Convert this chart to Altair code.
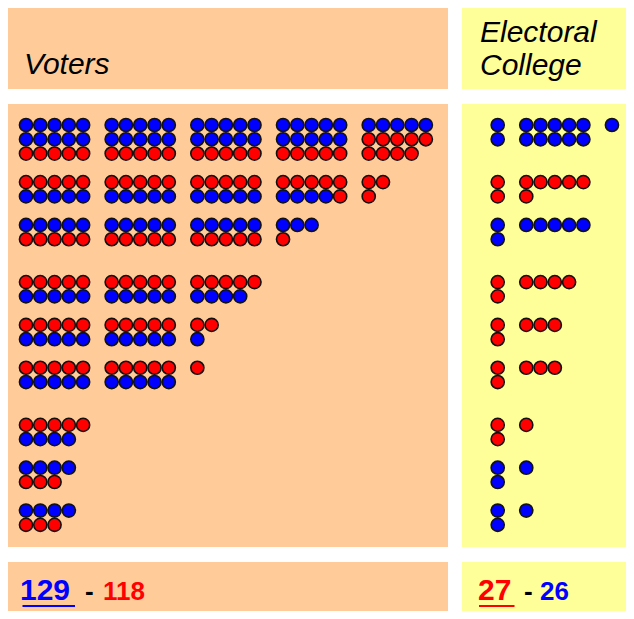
import altair as alt
import pandas as pd

BLUE = "#0000FF"
RED = "#FF0000"
ORANGE = "#FFCC99"
YELLOW = "#FFFF99"
FONT = "Liberation Sans"

# ---- data -------------------------------------------------------------
# Voters per state: blocks of dots, rows of a block separated by "/"
# B = blue voter, R = red voter
voter_blocks = [
    ["BBBBB/BBBBB/RRRRR"] * 4 + ["BBBBB/RRRRR/RRRR"],
    ["RRRRR/BBBBB"] * 3 + ["RRRRR/BBBBR", "RR/R"],
    ["BBBBB/RRRRR"] * 3 + ["BBB/R"],
    ["RRRRR/BBBBB"] * 2 + ["RRRRR/BBBB"],
    ["RRRRR/BBBBB"] * 2 + ["RR/B"],
    ["RRRRR/BBBBB"] * 2 + ["R"],
    ["RRRRR/BBBB"],
    ["BBBB/RRR"],
    ["BBBB/RRR"],
]
# Electoral college per state: winner, number of representative electors
ev_winner = ["B", "R", "B", "R", "R", "R", "R", "B", "B"]
ev_reps = [11, 6, 5, 4, 3, 3, 1, 1, 1]
ev_senators = [2, 2, 2, 2, 2, 2, 2, 2, 2]
group_sizes = [3, 3, 3]

voters_total = [129, 118]     # blue, red
ev_total = [27, 26]           # red, blue

# ---- layout helpers ----------------------------------------------------
STEP = 14.28
BLOCK_COLS = 5
BLOCK_GAP = 6

# starting row of each state
state_start = []
r = 0
idx = 0
for g in group_sizes:
    for _ in range(g):
        state_start.append(r)
        n_rows = max(max(len(b.split("/")) for b in voter_blocks[idx]), 2)
        r += n_rows + 1
        idx += 1
    r += 1

vrows = []
for s, blocks in enumerate(voter_blocks):
    for b, block in enumerate(blocks):
        for ri, line in enumerate(block.split("/")):
            for ci, ch in enumerate(line):
                vrows.append({"col": b * BLOCK_GAP + ci,
                              "row": state_start[s] + ri,
                              "party": ch})
df_v = pd.DataFrame(vrows)

erows = []
for s in range(len(ev_winner)):
    for k in range(ev_senators[s]):
        erows.append({"col": 0, "row": state_start[s] + k, "party": ev_winner[s]})
    for k in range(ev_reps[s]):
        blk, within = divmod(k, 2 * BLOCK_COLS)
        erows.append({"col": 2 + blk * BLOCK_GAP + within % BLOCK_COLS,
                      "row": state_start[s] + within // BLOCK_COLS,
                      "party": ev_winner[s]})
df_e = pd.DataFrame(erows)

color = alt.Color("party:N", scale=alt.Scale(domain=["B", "R"], range=[BLUE, RED]),
                  legend=None)

W_L, W_R = 440, 164
H_TOP, H_MAIN, H_BOT = 81, 443, 49


def dom(offset_px, size_px):
    a = -offset_px / STEP
    return [a, a + size_px / STEP]


def dots(df, width, x_off):
    return alt.Chart(df).mark_circle(
        size=172, stroke="#111111", strokeWidth=1.6, opacity=1
    ).encode(
        x=alt.X("col:Q", axis=None,
                scale=alt.Scale(domain=dom(x_off, width), nice=False, zero=False)),
        y=alt.Y("row:Q", axis=None,
                scale=alt.Scale(domain=dom(21, H_MAIN), nice=False, zero=False,
                                reverse=True)),
        color=color,
    ).properties(width=width, height=H_MAIN)


def label(text, x, y, size, col="black", weight="normal", style="normal"):
    return alt.Chart(pd.DataFrame({"t": [text]})).mark_text(
        align="left", baseline="alphabetic", font=FONT, fontSize=size,
        fontWeight=weight, fontStyle=style, color=col
    ).encode(text="t:N", x=alt.value(x), y=alt.value(y))


def underline(x1, x2, y, col):
    return alt.Chart(pd.DataFrame({"a": [0]})).mark_rule(
        color=col, strokeWidth=2
    ).encode(x=alt.value(x1), x2=alt.value(x2), y=alt.value(y))


top_left = label("Voters", 16, 66, 30, style="italic").properties(
    width=W_L, height=H_TOP, view=alt.ViewBackground(fill=ORANGE, stroke=None))
top_right = alt.layer(
    label("Electoral", 18, 34, 30, style="italic"),
    label("College", 18, 67, 30, style="italic"),
).properties(width=W_R, height=H_TOP,
             view=alt.ViewBackground(fill=YELLOW, stroke=None))

main_left = dots(df_v, W_L, 18).properties(
    view=alt.ViewBackground(fill=ORANGE, stroke=None))
main_right = dots(df_e, W_R, 35.7).properties(
    view=alt.ViewBackground(fill=YELLOW, stroke=None))

bot_left = alt.layer(
    label(str(voters_total[0]), 12, 38, 30, BLUE, "bold"),
    underline(14.5, 67, 44, BLUE),
    label("-", 77, 38, 26, "black", "bold"),
    label(str(voters_total[1]), 95, 38, 26, RED, "bold"),
).properties(width=W_L, height=H_BOT,
             view=alt.ViewBackground(fill=ORANGE, stroke=None))

bot_right = alt.layer(
    label(str(ev_total[0]), 16, 38, 30, RED, "bold"),
    underline(17, 52.5, 44, RED),
    label("-", 62, 38, 26, "black", "bold"),
    label(str(ev_total[1]), 78, 38, 26, BLUE, "bold"),
).properties(width=W_R, height=H_BOT,
             view=alt.ViewBackground(fill=YELLOW, stroke=None))

top_row = alt.hconcat(top_left, top_right, spacing=14, bounds="flush")
main_row = alt.hconcat(main_left, main_right, spacing=14, bounds="flush")
bot_row = alt.hconcat(bot_left, bot_right, spacing=14, bounds="flush")

chart = alt.vconcat(top_row, main_row, bot_row, spacing=15).properties(
    padding=0, background="white"
).configure_view(stroke=None)

chart.save("out.html", embed_options={"renderer": "svg", "actions": False})
